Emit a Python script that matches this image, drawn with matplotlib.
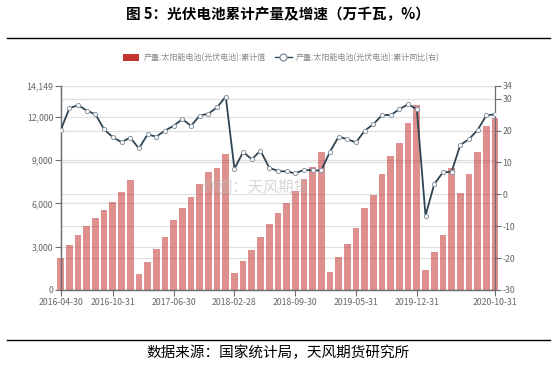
import numpy as np
import pandas as pd
import matplotlib
matplotlib.use('Agg')
import matplotlib.pyplot as plt
from matplotlib.patches import Patch
from matplotlib.lines import Line2D
from matplotlib.transforms import blended_transform_factory

plt.rcParams['font.family'] = ['Noto Sans CJK SC', 'DejaVu Sans']
plt.rcParams['axes.unicode_minus'] = False

# 月末日期（1月数据与2月合并，故无1月）
dates = [d.strftime('%Y-%m-%d') for d in pd.date_range('2016-04-30', '2020-10-31', freq='ME') if d.month != 1]

# 累计值（万千瓦）
output_cum = [2200, 3100, 3840, 4440, 4990, 5530, 6100, 6775, 7650,
              1090, 1940, 2820, 3700, 4880, 5710, 6475, 7375, 8160, 8485, 9410,
              1170, 2000, 2760, 3710, 4580, 5340, 6000, 6845, 7680, 8550, 9570,
              1270, 2310, 3170, 4280, 5670, 6590, 8070, 9260, 10200, 11600, 12830,
              1390, 2660, 3815, 8480, 6700, 8070, 9590, 11375, 11950]

# 累计同比（%，右轴）
yoy = [20.2, 27.0, 28.0, 26.3, 25.1, 20.4, 17.9, 16.4, 17.8,
       14.4, 18.8, 18.1, 20.0, 21.5, 23.6, 21.5, 24.7, 25.3, 27.3, 30.7,
       8.0, 13.3, 11.0, 13.7, 8.4, 7.3, 7.2, 6.6, 7.7, 7.5, 7.5,
       13.4, 18.1, 17.3, 16.3, 20.0, 22.0, 24.9, 24.9, 26.7, 28.3, 26.7,
       -6.7, 3.2, 6.9, 7.1, 15.5, 17.3, 20.2, 24.8, 25.1]

xtick_labels = ['2016-04-30', '2016-10-31', '2017-06-30', '2018-02-28',
                '2018-09-30', '2019-05-31', '2019-12-31', '2020-10-31']
left_ticks = [0, 3000, 6000, 9000, 12000, 14149]
left_ticklabels = ['0', '3,000', '6,000', '9,000', '12,000', '14,149']
right_ticks = [-30, -20, -10, 0, 10, 20, 30, 34]

BAR_COLOR = '#c23531'
LINE_COLOR = '#2f4554'
AXIS_COLOR = '#6e6e6e'
TEXT_COLOR = '#666666'
GRID_COLOR = '#e0e0e0'

x = np.arange(len(dates))

fig = plt.figure(figsize=(5.56, 3.65), dpi=100)
ax = fig.add_axes([0.1092, 0.2055, 0.7811, 0.5589])
ax2 = ax.twinx()

# 柱状图
ax.bar(x, output_cum, width=0.77, color=BAR_COLOR, alpha=0.55, linewidth=0, zorder=2, clip_on=False)
ax.set_xlim(0, len(dates) - 1)
ax.set_ylim(0, 14149)
ax.set_yticks(left_ticks)
ax.set_yticklabels(left_ticklabels)
ax.set_xticks([dates.index(d) for d in xtick_labels])
ax.set_xticklabels(xtick_labels)

# 网格线（左右轴刻度都画）
ax.set_axisbelow(True)
ax.grid(axis='y', color=GRID_COLOR, linewidth=0.9)
ax.grid(axis='x', visible=False)
trans = blended_transform_factory(ax.transAxes, ax2.transData)
for v in right_ticks:
    ax.plot([0, 1], [v, v], transform=trans, color=GRID_COLOR, linewidth=0.9, zorder=0.5)

# 折线
ax2.plot(x, yoy, color=LINE_COLOR, linewidth=1.3, marker='o', markersize=3,
         markerfacecolor='white', markeredgecolor='#8a97a2', markeredgewidth=0.7, zorder=3)
ax2.set_ylim(-30, 34)
ax2.set_yticks(right_ticks)
ax2.set_yticklabels([str(v) for v in right_ticks])

for a in (ax, ax2):
    a.spines['top'].set_visible(False)
    for s in a.spines.values():
        s.set_color(AXIS_COLOR)
        s.set_linewidth(0.9)
    a.tick_params(colors=AXIS_COLOR, labelcolor=TEXT_COLOR, labelsize=6.3, length=4, width=0.8, pad=1.5)
ax.spines['right'].set_visible(False)

# 图例
handles = [Patch(facecolor=BAR_COLOR, edgecolor='none'),
           Line2D([0], [0], color=LINE_COLOR, linewidth=1.0, marker='o', markersize=5,
                  markerfacecolor='white', markeredgecolor='#8a97a2')]
labels = ['产量:太阳能电池(光伏电池):累计值', '产量:太阳能电池(光伏电池):累计同比(右)']
fig.legend(handles, labels, loc='center', bbox_to_anchor=(0.506, 0.842), ncol=2, frameon=False,
           fontsize=5.8, labelcolor='#888888', handlelength=2.0, handleheight=0.9,
           columnspacing=1.2, handletextpad=0.5)

# 水印
fig.text(0.46, 0.488, '作图：天风期货', fontsize=11, color='#bbbbbb', alpha=0.6, ha='center', va='center')

# 标题与来源
fig.text(0.5, 0.962, '图 5：光伏电池累计产量及增速（万千瓦，%）', fontsize=10.5, fontweight='bold',
         ha='center', va='center', color='black')
fig.add_artist(Line2D([0.012, 0.99], [0.896, 0.896], color='black', linewidth=1.0))
fig.add_artist(Line2D([0.012, 0.99], [0.068, 0.068], color='black', linewidth=1.0))
fig.text(0.5, 0.033, '数据来源：国家统计局，天风期货研究所', fontsize=10.5, ha='center', va='center', color='black')

fig.savefig('out.png', dpi=100)
